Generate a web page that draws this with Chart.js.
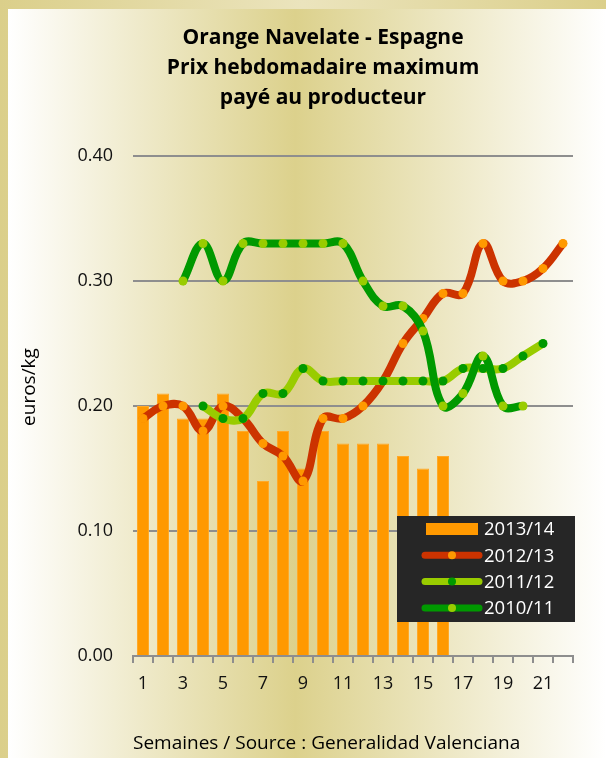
<!DOCTYPE html>
<html>
<head>
<meta charset="utf-8">
<script src="https://cdn.jsdelivr.net/npm/chart.js@4.4.0/dist/chart.umd.min.js"></script>
<style>
  html, body { margin: 0; padding: 0; }
  body {
    width: 606px; height: 758px; position: relative; overflow: hidden;
    background: linear-gradient(to right, #dbcf8a 0%, #ebe4bd 50%, #dbcf8a 100%);
  }
  #panel {
    position: absolute; left: 8px; top: 9px; right: 0; bottom: 0;
    background: linear-gradient(to right, #ffffff 0%, #dcd18c 48%, #ffffff 100%);
  }
  #chart { position: absolute; left: 0; top: 0; }
</style>
</head>
<body>
<div id="panel"></div>
<canvas id="chart" width="606" height="758"></canvas>
<script>
// weeks 1..22
var weeks = ['1','2','3','4','5','6','7','8','9','10','11','12','13','14','15','16','17','18','19','20','21','22']
var yTicks = [0, 0.1, 0.2, 0.3, 0.4]

var bars2013 = [0.20, 0.21, 0.19, 0.19, 0.21, 0.18, 0.14, 0.18, 0.15, 0.18, 0.17, 0.17, 0.17, 0.16, 0.15, 0.16]
var line2012 = [0.19, 0.20, 0.20, 0.18, 0.20, 0.19, 0.17, 0.16, 0.14, 0.19, 0.19, 0.20, 0.22, 0.25, 0.27, 0.29, 0.29, 0.33, 0.30, 0.30, 0.31, 0.33]
var line2011 = [null, null, null, 0.20, 0.19, 0.19, 0.21, 0.21, 0.23, 0.22, 0.22, 0.22, 0.22, 0.22, 0.22, 0.22, 0.23, 0.23, 0.23, 0.24, 0.25]
var line2010 = [null, null, 0.30, 0.33, 0.30, 0.33, 0.33, 0.33, 0.33, 0.33, 0.33, 0.30, 0.28, 0.28, 0.26, 0.20, 0.21, 0.24, 0.20, 0.20]

var titleLines = ['Orange Navelate - Espagne', 'Prix hebdomadaire maximum', 'payé au producteur']
var yTitle = 'euros/kg'
var xTitle = 'Semaines / Source : Generalidad Valenciana'

var font = "'Open Sans', 'DejaVu Sans', sans-serif"
var gridGrey = '#8e8e8e'

function lineSet(label, data, lineColor, dotColor) {
    return {
        type: 'line',
        label: label,
        data: data,
        borderColor: lineColor,
        backgroundColor: dotColor,
        borderWidth: 8,
        tension: 0.4,
        fill: false,
        spanGaps: false,
        pointRadius: 4.5,
        pointBorderWidth: 0,
        pointBackgroundColor: dotColor,
        borderCapStyle: 'round',
        borderJoinStyle: 'round'
    }
}

// first dataset is drawn on top
var datasets = [
    lineSet('2010/11', line2010, '#009900', '#99cc00'),
    lineSet('2011/12', line2011, '#99cc00', '#009900'),
    lineSet('2012/13', line2012, '#cc3300', '#ff9900'),
    {
        type: 'bar',
        label: '2013/14',
        data: bars2013,
        backgroundColor: '#ff9900',
        borderColor: '#ffa928',
        borderWidth: 1,
        barPercentage: 0.6,
        categoryPercentage: 1
    }
]

var legendOrder = [3, 2, 1, 0]

var decor = {
    id: 'decor',
    afterDraw: function (chart) {
        var c = chart.ctx
        c.save()
        // title
        c.fillStyle = '#000'
        c.font = 'bold 21px ' + font
        c.textAlign = 'center'
        c.textBaseline = 'middle'
        titleLines.forEach(function (t, i) { c.fillText(t, 323, 38 + i * 30) })

        // axis titles
        c.font = '19px ' + font
        c.textAlign = 'left'
        c.fillText(xTitle, 133, 744)
        c.save()
        c.translate(30, 387)
        c.rotate(-Math.PI / 2)
        c.textAlign = 'center'
        c.fillText(yTitle, 0, 0)
        c.restore()

        // legend box
        c.fillStyle = '#262626'
        c.fillRect(397, 516, 178, 106)
        c.font = '18.5px ' + font
        c.textAlign = 'left'
        legendOrder.forEach(function (di, row) {
            var ds = chart.data.datasets[di]
            var y = 529 + row * 26.3
            if (ds.type === 'bar') {
                c.fillStyle = ds.backgroundColor
                c.fillRect(426, y - 6, 52, 12)
            } else {
                c.strokeStyle = ds.borderColor
                c.lineWidth = 7
                c.lineCap = 'round'
                c.beginPath()
                c.moveTo(425, y)
                c.lineTo(479, y)
                c.stroke()
                c.fillStyle = ds.pointBackgroundColor
                c.beginPath()
                c.arc(452, y, 4, 0, Math.PI * 2)
                c.fill()
            }
            c.fillStyle = '#fff'
            c.fillText(ds.label, 484, y + 1)
        })
        c.restore()
    }
}

new Chart(document.getElementById('chart'), {
    data: { labels: weeks, datasets: datasets },
    options: {
        responsive: false,
        animation: false,
        layout: { padding: { left: 0, top: 156, right: 33, bottom: 0 } },
        plugins: { legend: { display: false }, tooltip: { enabled: false }, title: { display: false } },
        scales: {
            x: {
                type: 'category',
                offset: true,
                grid: {
                    offset: true,
                    drawOnChartArea: false,
                    drawTicks: true,
                    tickLength: 7,
                    color: gridGrey,
                    lineWidth: 2
                },
                border: { display: true, color: gridGrey, width: 2 },
                ticks: {
                    autoSkip: false,
                    maxRotation: 0,
                    padding: 10,
                    color: '#111',
                    font: { family: font, size: 18 },
                    callback: function (v, i) { return i % 2 === 0 ? weeks[i] : '' }
                },
                afterFit: function (s) { s.height = 102 }
            },
            y: {
                min: 0,
                max: 0.4,
                afterBuildTicks: function (s) { s.ticks = yTicks.map(function (v) { return { value: v } }) },
                grid: { color: gridGrey, lineWidth: 2, drawTicks: false },
                border: { display: false },
                ticks: {
                    padding: 20,
                    color: '#111',
                    font: { family: font, size: 18 },
                    callback: function (v) { return v.toFixed(2) }
                },
                afterFit: function (s) { s.width = 133 }
            }
        }
    },
    plugins: [decor]
})
</script>
</body>
</html>
